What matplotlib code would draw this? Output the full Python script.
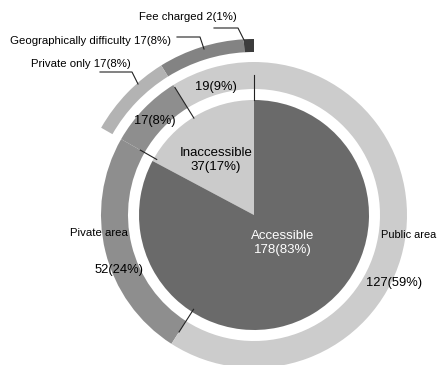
# Nested pie: accessibility of sites, by area and reason

import matplotlib.pyplot as plt
import numpy as np

# inner pie
inner_labels = ['Inaccessible', 'Accessible']
inner_values = [37, 178]
inner_pct = [17, 83]

# middle ring (public / private split)
mid_values = [19, 17, 52, 127]
mid_pct = [9, 8, 24, 59]

# outer partial ring (reasons for no access)
outer_labels = ['Fee charged', 'Geographically difficulty', 'Private only']
outer_values = [2, 17, 17]
outer_pct = [1, 8, 8]

total = sum(inner_values)

plt.rcParams['font.family'] = ['Liberation Sans', 'DejaVu Sans']

fig = plt.figure(figsize=(4.38, 3.65), dpi=100)
ax = fig.add_axes([0, 0, 1, 1])

cx, cy = 254, 215  # pie centre in pixels


def P(px, py):
    """pixel position -> data position"""
    return px - cx, cy - py


# inner pie
ax.pie(inner_values, radius=115, startangle=90, counterclock=True,
       colors=['#cbcbcb', '#6a6a6a'], wedgeprops=dict(linewidth=0))

# middle ring
ax.pie(mid_values, radius=153, startangle=90, counterclock=True,
       colors=['#cccccc', '#8e8e8e', '#8e8e8e', '#cccccc'],
       wedgeprops=dict(width=27, linewidth=0))

# outer ring, the rest of the circle left empty
rest = total - sum(outer_values)
ax.pie(outer_values + [rest], radius=176, startangle=90, counterclock=True,
       colors=['#3c3c3c', '#838383', '#b3b3b3', 'none'],
       wedgeprops=dict(width=13, linewidth=0))

# thin radial marker lines at the segment boundaries
cum = np.cumsum([0] + mid_values)
for v, r0, r1 in zip(cum[:4], [115, 114, 112, 112], [140, 150, 131, 139]):
    a = np.deg2rad(90 + v / total * 360)
    ax.plot([r0 * np.cos(a), r1 * np.cos(a)], [r0 * np.sin(a), r1 * np.sin(a)],
            color='#222222', lw=0.8)

# leader lines for the outer labels
for pts in ([(214, 28), (238, 28), (244, 40)],
            [(177, 37), (200, 37), (204, 49)],
            [(100, 72), (132, 72), (138, 84)]):
    xs, ys = zip(*[P(*p) for p in pts])
    ax.plot(xs, ys, color='#222222', lw=0.8)

# texts
fs_small = 8.2
ax.text(*P(188, 17), f'{outer_labels[0]} {outer_values[0]}({outer_pct[0]}%)',
        ha='center', va='center', fontsize=fs_small)
ax.text(*P(90, 41), f'{outer_labels[1]} {outer_values[1]}({outer_pct[1]}%)',
        ha='center', va='center', fontsize=fs_small)
ax.text(*P(81, 64), f'{outer_labels[2]} {outer_values[2]}({outer_pct[2]}%)',
        ha='center', va='center', fontsize=fs_small)

ax.text(*P(216, 87), f'{mid_values[0]}({mid_pct[0]}%)', ha='center', va='center', fontsize=9.3)
ax.text(*P(155, 121), f'{mid_values[1]}({mid_pct[1]}%)', ha='center', va='center', fontsize=9.3)
ax.text(*P(119, 270), f'{mid_values[2]}({mid_pct[2]}%)', ha='center', va='center', fontsize=9.3)
ax.text(*P(394, 283), f'{mid_values[3]}({mid_pct[3]}%)', ha='center', va='center', fontsize=9.3)

ax.text(*P(99, 233), 'Pivate area', ha='center', va='center', fontsize=fs_small)
ax.text(*P(436, 235), 'Public area', ha='right', va='center', fontsize=7.9)

ax.text(*P(216, 160), f'{inner_labels[0]}\n{inner_values[0]}({inner_pct[0]}%)',
        ha='center', va='center', fontsize=9.5, linespacing=1.25)
ax.text(*P(283, 243), f'{inner_labels[1]}\n{inner_values[1]}({inner_pct[1]}%)',
        ha='center', va='center', fontsize=9.5, linespacing=1.25, color='white')

ax.set_xlim(-cx, 438 - cx)
ax.set_ylim(cy - 365, cy)
ax.set_aspect('equal')
ax.axis('off')

fig.savefig('out.png', dpi=100)
